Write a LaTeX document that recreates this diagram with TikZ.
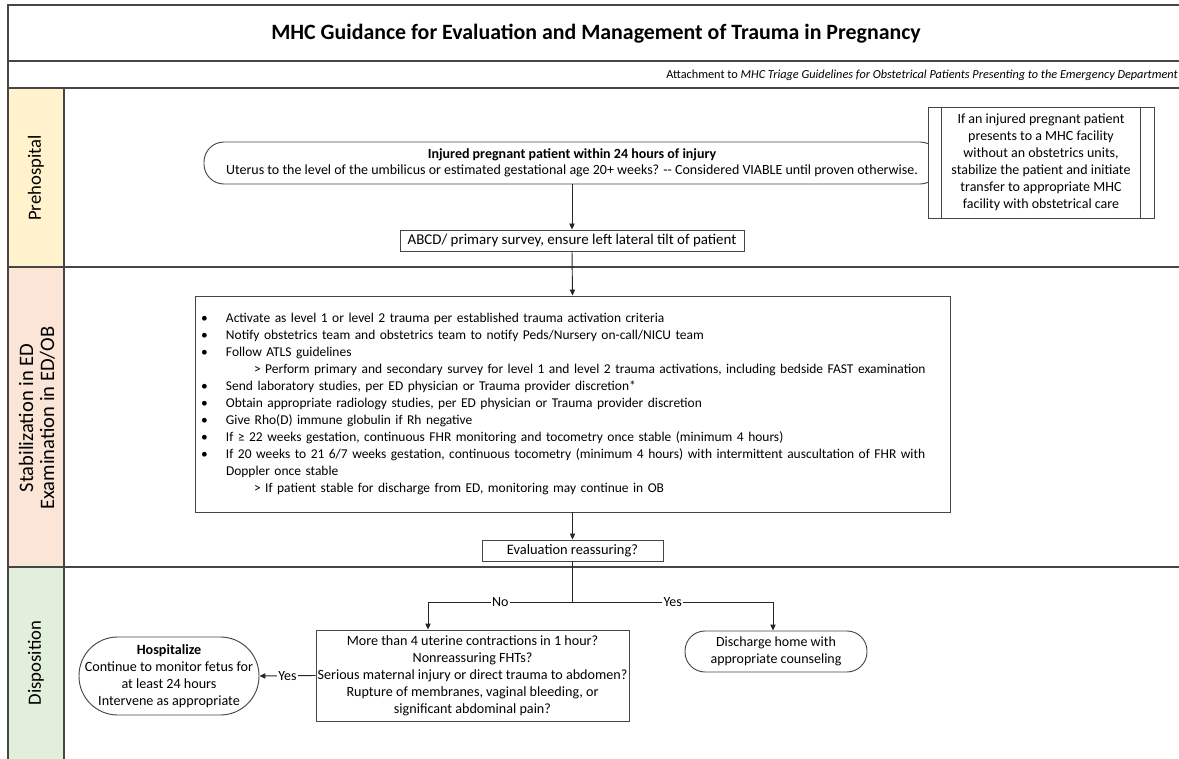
\documentclass[tikz,border=0pt]{standalone}
\usepackage{fontspec}
\setmainfont{Carlito}
\usetikzlibrary{arrows.meta,calc}
\definecolor{lnc}{RGB}{70,70,70}
\definecolor{laneA}{RGB}{255,242,204}
\definecolor{laneB}{RGB}{251,229,214}
\definecolor{laneC}{RGB}{226,239,218}
\newcommand{\bul}{\makebox[18.75pt][l]{\textbullet}}
\newcommand{\subi}{\hspace*{39.75pt}}
\newcommand{\cont}{\hspace*{18.75pt}}
\begin{document}
\begin{tikzpicture}[x=0.75pt,y=-0.75pt,
  frame/.style={draw=lnc, line width=1.3pt},
  box/.style={draw=lnc, line width=0.7pt, fill=white, align=center, inner sep=0pt,
    font=\fontsize{10.5}{12.75}\selectfont},
  term/.style={box, rounded corners=15pt},
  arr/.style={-{Triangle[length=4.5pt,width=4pt]}, draw=black!85, line width=0.7pt},
  lbl/.style={fill=white, inner sep=1pt, font=\fontsize{10.5}{11}\selectfont},
  lane/.style={rotate=90, align=center, font=\fontsize{14}{15.75}\selectfont}
]
\useasboundingbox (0,0) rectangle (1179,759);
% lane fills
\fill[laneA] (8,88) rectangle (64,267);
\fill[laneB] (8,267) rectangle (64,567);
\fill[laneC] (8,567) rectangle (64,759);
% frame
\draw[frame] (1185,5) -- (8,5) -- (8,765);
\draw[frame] (8,61) -- (1185,61);
\draw[frame] (8,88) -- (1185,88);
\draw[frame] (8,267) -- (1185,267);
\draw[frame] (8,567) -- (1185,567);
\draw[frame] (64,88) -- (64,765);
% title
\node[font=\fontsize{16.4}{19}\selectfont\bfseries] (title) at (596,34) {MHC Guidance for Evaluation and Management of Trauma in Pregnancy};
\node[anchor=east, font=\fontsize{9.2}{11}\selectfont, inner sep=0pt] (sub) at (1178,75) {Attachment to \textit{MHC Triage Guidelines for Obstetrical Patients Presenting to the Emergency Department}};
% lane labels
\node[lane] (l1) at (36,178) {Prehospital};
\node[lane, font=\fontsize{15.4}{15.75}\selectfont] (l2) at (37,418) {Stabilization in ED\\Examination in ED/OB};
\node[lane] (l3) at (36,663) {Disposition};
% nodes
\node[term, minimum width=552pt, minimum height=31.5pt, font=\fontsize{10.5}{12}\selectfont] (top) at (572,163)
  {\textbf{Injured pregnant patient within 24 hours of injury}\\Uterus to the level of the umbilicus or estimated gestational age 20+ weeks? -{}- Considered VIABLE until proven otherwise.};
\node[box, minimum width=169.5pt, minimum height=83.25pt] (note) at (1041,162.5)
  {If an injured pregnant patient\\presents to a MHC facility\\without an obstetrics units,\\stabilize the patient and initiate\\transfer to appropriate MHC\\facility with obstetrical care};
\draw[draw=lnc, line width=0.7pt] ($(note.north west)+(14,0)$) -- ($(note.south west)+(14,0)$);
\draw[draw=lnc, line width=0.7pt] ($(note.north east)+(-14,0)$) -- ($(note.south east)+(-14,0)$);
\node[box, minimum width=258pt, minimum height=15.75pt, font=\fontsize{11.2}{13}\selectfont] (abcd) at (572,240.5)
  {ABCD/ primary survey, ensure left lateral tilt of patient};
\node[box, minimum width=566.25pt, minimum height=162pt, text width=557.25pt, inner xsep=4.5pt, align=left, font=\fontsize{10.1}{12.75}\selectfont] (bul) at (572.5,404)
  {\bul Activate as level 1 or level 2 trauma per established trauma activation criteria\\
   \bul Notify obstetrics team and obstetrics team to notify Peds/Nursery on-call/NICU team\\
   \bul Follow ATLS guidelines\\
   \subi > Perform primary and secondary survey for level 1 and level 2 trauma activations, including bedside FAST examination\\
   \bul Send laboratory studies, per ED physician or Trauma provider discretion*\\
   \bul Obtain appropriate radiology studies, per ED physician or Trauma provider discretion\\
   \bul Give Rho(D) immune globulin if Rh negative\\
   \bul If ≥ 22 weeks gestation, continuous FHR monitoring and tocometry once stable (minimum 4 hours)\\
   \bul If 20 weeks to 21 6/7 weeks gestation, continuous tocometry (minimum 4 hours) with intermittent auscultation of FHR with\\
   \cont Doppler once stable\\
   \subi > If patient stable for discharge from ED, monitoring may continue in OB};
\node[box, minimum width=135.75pt, minimum height=15.75pt, font=\fontsize{10.8}{13}\selectfont] (eval) at (572.5,550.5) {Evaluation reassuring?};
\node[box, minimum width=234.75pt, minimum height=68.25pt, font=\fontsize{10.6}{12.75}\selectfont] (q) at (472.5,675.5)
  {More than 4 uterine contractions in 1 hour?\\Nonreassuring FHTs?\\Serious maternal injury or direct trauma to abdomen?\\Rupture of membranes, vaginal bleeding, or\\significant abdominal pain?};
\node[term, minimum width=136.5pt, minimum height=30.75pt] (dis) at (776,651.5)
  {Discharge home with\\appropriate counseling};
\node[box, rounded corners=29pt, minimum width=135pt, minimum height=58.5pt, font=\fontsize{10.6}{12.75}\selectfont] (hosp) at (169,676)
  {\textbf{Hospitalize}\\Continue to monitor fetus for\\at least 24 hours\\Intervene as appropriate};
% connectors
\draw[arr] (top.south) -- (abcd.north);
\draw[arr] (abcd.south) -- (bul.north);
\draw[arr] (bul.south) -- (eval.north);
\coordinate (split) at (572.5,602);
\coordinate (nob) at (428,602);
\coordinate (yesb) at (773,602);
\draw[draw=black!85, line width=0.7pt] (eval.south) -- (split);
\draw[arr] (split) -- node[lbl]{No} (nob) -- (nob |- q.north);
\draw[arr] (split) -- node[lbl]{Yes} (yesb) -- (yesb |- dis.north);
\draw[arr] (q.west) -- node[lbl]{Yes} (hosp.east);
\end{tikzpicture}
\end{document}
